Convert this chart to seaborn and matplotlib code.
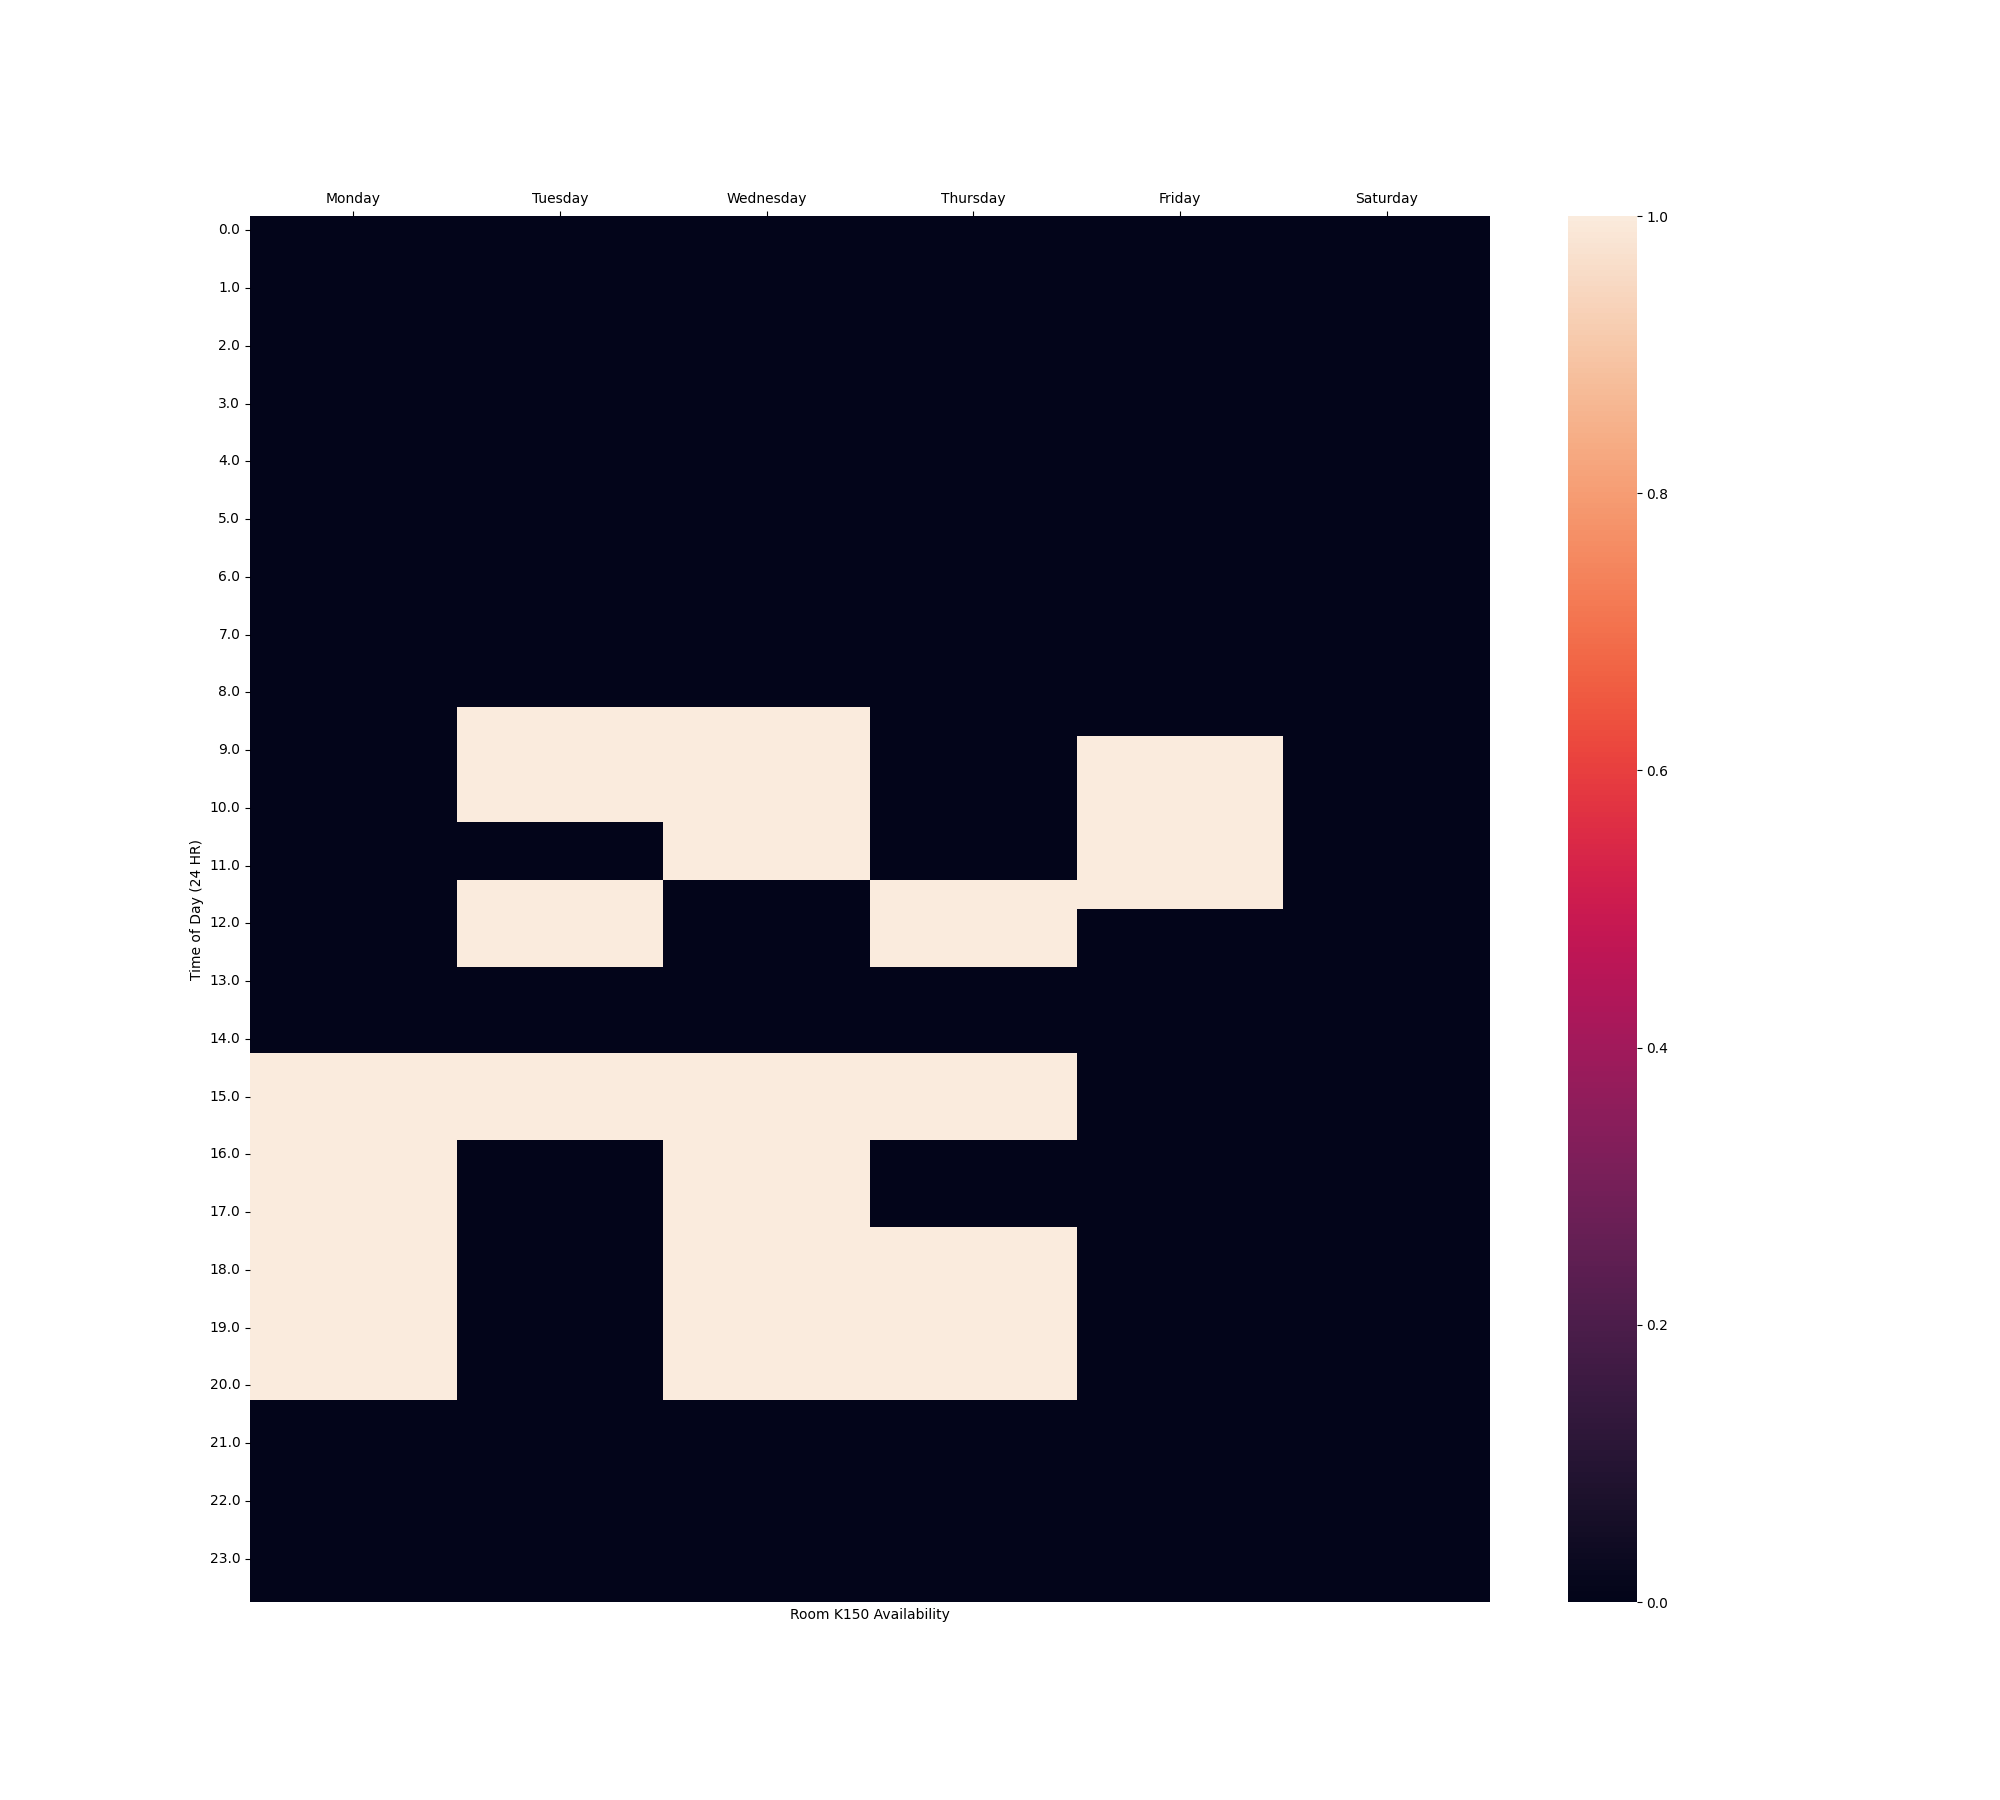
import numpy as np
import pandas as pd
import matplotlib
matplotlib.use("Agg")
import matplotlib.pyplot as plt
import seaborn as sns

# gunler ve yarim saatlik zaman dilimleri
days = ["Monday", "Tuesday", "Wednesday", "Thursday", "Friday", "Saturday"]
hours = np.arange(0, 24, 0.5)

# musait bloklar (baslangic, bitis) - bitis dahil degil
monday_blocks = [(14.5, 20.5)]
tuesday_blocks = [(8.5, 10.5), (11.5, 13.0), (14.5, 16.0)]
wednesday_blocks = [(8.5, 11.5), (14.5, 20.5)]
thursday_blocks = [(11.5, 13.0), (14.5, 16.0), (17.5, 20.5)]
friday_blocks = [(9.0, 12.0)]
saturday_blocks = []

all_blocks = [monday_blocks, tuesday_blocks, wednesday_blocks,
              thursday_blocks, friday_blocks, saturday_blocks]

# tabloyu olustur
df = pd.DataFrame(0, index=hours, columns=days)
for day, blocks in zip(days, all_blocks):
    for start, end in blocks:
        df.loc[(df.index >= start) & (df.index < end), day] = 1

fig = plt.figure(figsize=(20, 18), dpi=100)
ax = sns.heatmap(df, yticklabels=2)
ax.xaxis.tick_top()
ax.set_xlabel("Room K150 Availability")
ax.set_ylabel("Time of Day (24 HR)")
plt.yticks(rotation=0)

plt.savefig("out.png")
